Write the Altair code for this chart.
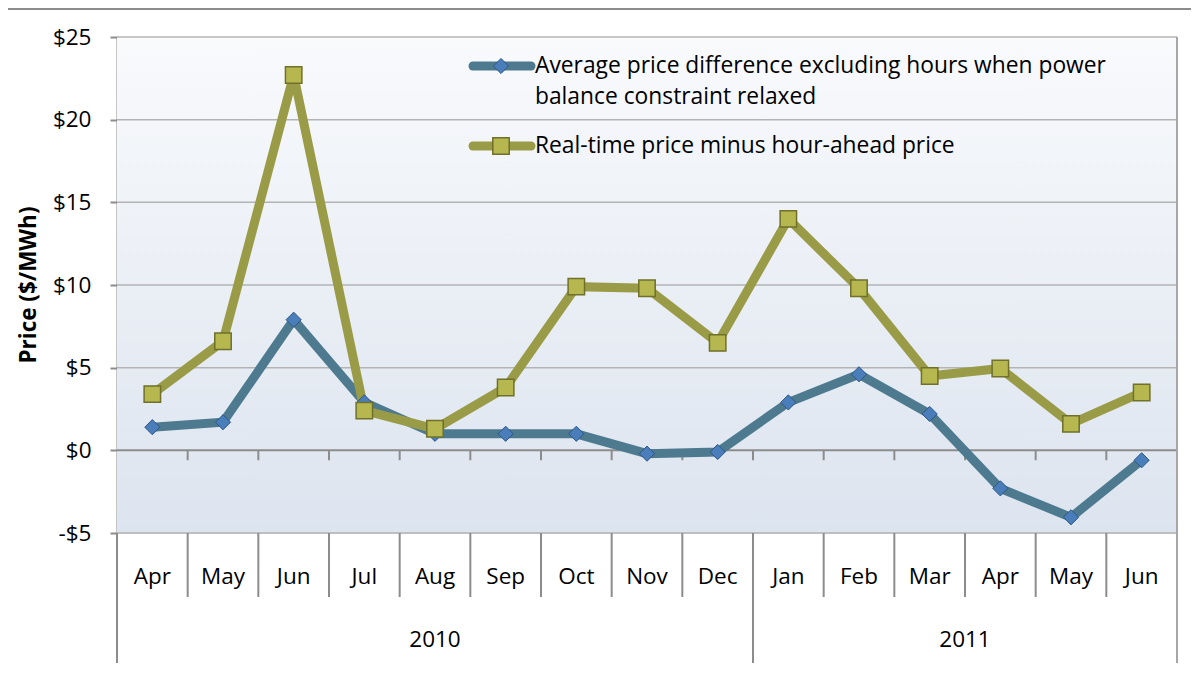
import altair as alt
import pandas as pd

months = ["Apr", "May", "Jun", "Jul", "Aug", "Sep", "Oct", "Nov", "Dec",
          "Jan", "Feb", "Mar", "Apr", "May", "Jun"]
years = ["2010", "2011"]
year_span = [(0, 9), (9, 15)]
avg_excl = [1.4, 1.7, 7.9, 2.9, 1.0, 1.0, 1.0, -0.2, -0.1, 2.9, 4.6, 2.2, -2.3, -4.05, -0.6]
rt_minus_ha = [3.4, 6.6, 22.7, 2.4, 1.3, 3.8, 9.9, 9.8, 6.5, 14.0, 9.8, 4.5, 4.95, 1.6, 3.5]
series_names = ["Average price difference excluding hours when power balance constraint relaxed",
                "Real-time price minus hour-ahead price"]
y_ticks = [-5, 0, 5, 10, 15, 20, 25]

W, H = 1060, 496
FONT = "Open Sans"
FS = 22.5
BLUE_LINE = "#4E7A8F"
OLIVE_LINE = "#9A9B47"
GRID = "#B3B3B3"
AXIS = "#8C8C8C"

rows = []
for i, m in enumerate(months):
    rows.append({"x": i + 0.5, "v": avg_excl[i], "s": series_names[0]})
    rows.append({"x": i + 0.5, "v": rt_minus_ha[i], "s": series_names[1]})
df = pd.DataFrame(rows)

xs = alt.Scale(domain=[0, 15])
ys = alt.Scale(domain=[-5, 25])
one = pd.DataFrame({"a": [0]})

bg = alt.Chart(one).mark_rect(
    fill=alt.Gradient(gradient="linear", x1=0, x2=0, y1=0, y2=1,
                      stops=[alt.GradientStop(color="#F9FAFC", offset=0),
                             alt.GradientStop(color="#DCE4EF", offset=1)])
).encode(x=alt.value(0), x2=alt.value(W), y=alt.value(0), y2=alt.value(H))

grid_df = pd.DataFrame({"y": [t for t in y_ticks if t != 0]})
grid = alt.Chart(grid_df).mark_rule(color=GRID, strokeWidth=1.5).encode(
    y=alt.Y("y:Q", scale=ys, axis=None), x=alt.value(0), x2=alt.value(W))
zero = alt.Chart(pd.DataFrame({"y": [0]})).mark_rule(color=AXIS, strokeWidth=2).encode(
    y=alt.Y("y:Q", scale=ys, axis=None), x=alt.value(0), x2=alt.value(W))

bounds = list(range(1, 15))
zticks = alt.Chart(pd.DataFrame({"b": bounds, "y0": [0] * len(bounds), "y1": [-0.6] * len(bounds)})).mark_rule(
    color=AXIS, strokeWidth=2).encode(
    x=alt.X("b:Q", scale=xs, axis=None), y=alt.Y("y0:Q", scale=ys, axis=None), y2="y1:Q")

short_b = [b for b in range(1, 15) if b != 9]
seps_short = alt.Chart(pd.DataFrame({"b": short_b})).mark_rule(color=AXIS, strokeWidth=2).encode(
    x=alt.X("b:Q", scale=xs, axis=None), y=alt.value(H), y2=alt.value(H + 64))
seps_long = alt.Chart(pd.DataFrame({"b": [0, 9]})).mark_rule(color=AXIS, strokeWidth=2).encode(
    x=alt.X("b:Q", scale=xs, axis=None), y=alt.value(H), y2=alt.value(H + 130))
right_edge = alt.Chart(pd.DataFrame({"b": [15]})).mark_rule(color="#A6A6A6", strokeWidth=2).encode(
    x=alt.X("b:Q", scale=xs, axis=None), y=alt.value(0), y2=alt.value(H + 130))

color_scale = alt.Scale(domain=series_names, range=[BLUE_LINE, OLIVE_LINE])
lines = alt.Chart(df).mark_line(strokeWidth=9, strokeJoin="miter").encode(
    x=alt.X("x:Q", scale=xs, axis=None),
    y=alt.Y("v:Q", scale=ys, axis=alt.Axis(
        values=y_ticks, title=None, grid=False,
        labelExpr="datum.value < 0 ? '-$' + abs(datum.value) : '$' + datum.value",
        labelFontSize=FS, labelFont=FONT, labelColor="#000000", labelPadding=19,
        tickSize=7, tickColor=AXIS, tickWidth=2, domainColor=AXIS, domainWidth=2)),
    color=alt.Color("s:N", scale=color_scale, legend=None),
    detail="s:N")

blue_pts = alt.Chart(df[df.s == series_names[0]]).mark_point(
    shape="diamond", filled=True, size=230, fill="#4A7EBB", stroke="#2E5783", strokeWidth=1, opacity=1).encode(
    x=alt.X("x:Q", scale=xs, axis=None), y=alt.Y("v:Q", scale=ys, axis=None))
olive_pts = alt.Chart(df[df.s == series_names[1]]).mark_point(
    shape="square", filled=True, size=270, fill="#B6B74E", stroke="#6F702A", strokeWidth=1.5, opacity=1).encode(
    x=alt.X("x:Q", scale=xs, axis=None), y=alt.Y("v:Q", scale=ys, axis=None))

mdf = pd.DataFrame({"x": [i + 0.5 for i in range(len(months))], "m": months})
mlabels = alt.Chart(mdf).mark_text(fontSize=FS, font=FONT, color="#000000", baseline="middle").encode(
    x=alt.X("x:Q", scale=xs, axis=None), y=alt.value(H + 44), text="m:N")
ydf = pd.DataFrame({"x": [(a + b) / 2 for a, b in year_span], "yr": years})
ylabels = alt.Chart(ydf).mark_text(fontSize=FS, font=FONT, color="#000000", baseline="middle").encode(
    x=alt.X("x:Q", scale=xs, axis=None), y=alt.value(H + 107), text="yr:N")

ytitle = alt.Chart(one).mark_text(fontSize=22.5, font=FONT, fontWeight="bold", angle=270,
                                  align="center", baseline="middle", color="#000000").encode(
    x=alt.value(-88), y=alt.value(H / 2), text=alt.value("Price ($/MWh)"))

# frame (left and top border of chart area)
frame_l = alt.Chart(one).mark_rule(color="#8C8C8C", strokeWidth=2).encode(
    x=alt.value(-110), y=alt.value(-28), y2=alt.value(H + 150))
frame_t = alt.Chart(one).mark_rule(color="#8C8C8C", strokeWidth=2).encode(
    y=alt.value(-28), x=alt.value(-110), x2=alt.value(W + 30))

# legend
leg1_line = alt.Chart(one).mark_rule(color=BLUE_LINE, strokeWidth=9, strokeCap="round").encode(
    x=alt.value(356), x2=alt.value(414), y=alt.value(29))
leg2_line = alt.Chart(one).mark_rule(color=OLIVE_LINE, strokeWidth=9, strokeCap="round").encode(
    x=alt.value(356), x2=alt.value(414), y=alt.value(109))
leg1_pt = alt.Chart(one).mark_point(shape="diamond", filled=True, size=230, fill="#4A7EBB",
                                     stroke="#2E5783", strokeWidth=1, opacity=1).encode(
    x=alt.value(384), y=alt.value(29))
leg2_pt = alt.Chart(one).mark_point(shape="square", filled=True, size=270, fill="#B6B74E",
                                     stroke="#6F702A", strokeWidth=1.5, opacity=1).encode(
    x=alt.value(384), y=alt.value(109))
leg_txt = alt.Chart(pd.DataFrame({
    "t": ["Average price difference excluding hours when power", "balance constraint relaxed",
          series_names[1]],
    "yy": [29, 60, 109]})).mark_text(fontSize=22.8, font=FONT, align="left", baseline="middle",
                                     color="#000000").encode(
    x=alt.value(418), y=alt.Y("yy:Q", scale=alt.Scale(domain=[0, H], range=[0, H]), axis=None),
    text="t:N")

chart = alt.layer(
    bg, grid, zero, zticks, seps_short, seps_long, right_edge, frame_l, frame_t,
    lines, blue_pts, olive_pts, mlabels, ylabels, ytitle,
    leg1_line, leg2_line, leg1_pt, leg2_pt, leg_txt
).resolve_scale(y="independent").properties(
    width=W, height=H,
    autosize=alt.AutoSizeParams(type="none"),
    padding={"left": 109, "top": 29, "right": 14, "bottom": 134}
).configure_view(stroke=None).configure(background="white")

chart.save("out.html", embed_options={"renderer": "svg", "actions": False})
